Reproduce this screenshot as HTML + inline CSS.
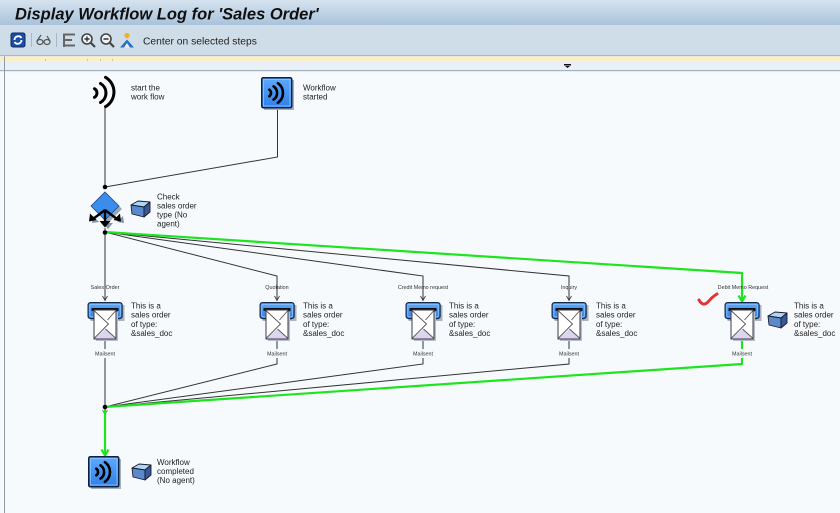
<!DOCTYPE html>
<html><head><meta charset="utf-8"><style>
html,body{margin:0;padding:0;width:840px;height:513px;overflow:hidden;background:#f7fafd}
svg{display:block}
text{font-family:"Liberation Sans",Arial,sans-serif}
</style></head><body>
<svg width="840" height="513" viewBox="0 0 840 513" xmlns="http://www.w3.org/2000/svg">
<defs>
<linearGradient id="tb" x1="0" y1="0" x2="0" y2="1"><stop offset="0" stop-color="#d6e3ef"/><stop offset="1" stop-color="#a9c3db"/></linearGradient>
<linearGradient id="bl" x1="0" y1="0" x2="0" y2="1"><stop offset="0" stop-color="#5eaaff"/><stop offset="1" stop-color="#2f80e8"/></linearGradient>
<g id="wsq">
  <rect x="3" y="3" width="30" height="30" fill="#a6b0bc"/>
  <rect x="0.75" y="0.75" width="30" height="30" rx="1.5" fill="url(#bl)" stroke="#0d2145" stroke-width="1.5"/>
  <rect x="2.5" y="2.5" width="26.5" height="26.5" fill="none" stroke="#8cc8ff" stroke-width="0.8"/>
  <g fill="none" stroke="#000" stroke-width="2.6" stroke-linecap="round">
    <path d="M8.3 12.7 A4 4 0 0 1 8.3 19.3"/>
    <path d="M12.6 9.4 A8 8 0 0 1 12.6 22.6"/>
    <path d="M16.9 6.2 A12 12 0 0 1 16.9 25.8"/>
  </g>
</g>
<g id="box">
  <polygon points="0,5 7,1 19,2 13,7" fill="#a9d9f8" stroke="#1a1a2a" stroke-width="0.9" stroke-linejoin="round"/>
  <polygon points="0,5 13,7 13,17 1,14" fill="#5c88cc" stroke="#1a1a2a" stroke-width="0.9" stroke-linejoin="round"/>
  <polygon points="13,7 19,2 19,12 13,17" fill="#36589a" stroke="#1a1a2a" stroke-width="0.9" stroke-linejoin="round"/>
</g>
<g id="task">
  <rect x="3" y="3" width="34" height="16" fill="#aab4c0"/>
  <rect x="0.6" y="0.6" width="34" height="16" rx="2.5" fill="url(#bl)" stroke="#13294f" stroke-width="1.2"/>
  <rect x="2.3" y="2.3" width="30.6" height="12.6" rx="1.5" fill="none" stroke="#8cc4ff" stroke-width="0.8"/>
  <rect x="4" y="6" width="27" height="3" fill="#111"/>
  <rect x="8.5" y="10" width="22" height="29" fill="#b6bec8"/>
  <rect x="6.5" y="8" width="22" height="29" fill="#fff" stroke="#3a3a4a" stroke-width="1"/>
  <polygon points="7,36.5 18,27 28,36.5" fill="#dcd4f0"/>
  <polyline points="7,9 21,22 7,36" fill="none" stroke="#555" stroke-width="0.9"/>
  <polyline points="28,9 20,18" fill="none" stroke="#555" stroke-width="0.9"/>
  <polyline points="28,36 18,27" fill="none" stroke="#555" stroke-width="0.9"/>
</g>
</defs>

<!-- title bar -->
<rect x="0" y="0" width="840" height="25" fill="url(#tb)"/>
<text x="15" y="19.5" font-size="16.5" font-weight="bold" font-style="italic" fill="#101010">Display Workflow Log for 'Sales Order'</text>
<!-- toolbar -->
<rect x="0" y="25" width="840" height="30" fill="#cfdde8"/>
<rect x="0" y="55" width="840" height="1.2" fill="#a9b7c4"/>
<rect x="0" y="56.5" width="840" height="5" fill="#fcefc6"/>
<rect x="0" y="61.5" width="840" height="9" fill="#e9f0f7"/>
<rect x="0" y="70" width="840" height="1.2" fill="#a3b0bd"/>
<rect x="4" y="56.5" width="1" height="457" fill="#8e9aa6"/>
<g fill="#999"><rect x="45" y="59.5" width="1" height="1"/><rect x="87" y="59.5" width="1" height="1"/><rect x="100" y="59.5" width="1" height="1"/><rect x="112" y="59.5" width="1" height="1"/></g>
<rect x="564" y="64" width="7" height="1.5" fill="#111"/><polygon points="565,66 570,66 567.5,68" fill="#111"/>

<!-- toolbar icons -->
<rect x="11" y="33" width="14" height="14" rx="2" fill="#1a4fa8" stroke="#0d2a60"/>
<path d="M14.5 40 A3.8 3.8 0 0 1 21.5 38" fill="none" stroke="#fff" stroke-width="1.8"/>
<path d="M21.5 40 A3.8 3.8 0 0 1 14.5 42" fill="none" stroke="#fff" stroke-width="1.8"/>
<rect x="31" y="33" width="1" height="14" fill="#a9b7c4"/>
<g fill="none" stroke="#555" stroke-width="1.2"><ellipse cx="40" cy="42" rx="3" ry="2.5"/><ellipse cx="47" cy="42" rx="3" ry="2.5"/><path d="M37 41 L41 35 M43 42 L44 42 M50 41 L47 36"/></g>
<rect x="56" y="33" width="1" height="14" fill="#a9b7c4"/>
<g stroke="#666" stroke-width="2"><path d="M64 33.5 V47"/><path d="M64 34.5 H75 M64 40 H72 M64 45.5 H75"/></g>
<g fill="#eef3f8" stroke="#444" stroke-width="1.6"><circle cx="87" cy="39" r="5"/><circle cx="106" cy="39" r="5"/></g>
<g stroke="#444" stroke-width="2.2"><path d="M90.5 42.5 L95 47 M109.5 42.5 L114 47"/></g>
<g stroke="#333" stroke-width="1.4"><path d="M84.5 39 H89.5 M87 36.5 V41.5 M103.5 39 H108.5"/></g>
<circle cx="127" cy="35.5" r="2.6" fill="#f0b020"/>
<polygon points="120,47.5 134,47.5 127,39.5" fill="#2a70c0"/>
<polygon points="124,47.5 130,47.5 127,43" fill="#e8eef4"/>
<text x="143" y="44.5" font-size="10.3" fill="#222">Center on selected steps</text>

<!-- canvas connectors -->
<g fill="none" stroke="#333" stroke-width="1">
  <path d="M105 108 V187"/>
  <path d="M277.5 107 V157 L105 187"/>
  <path d="M105 228 V232"/>
  <path d="M105 232 V301"/>
  <path d="M105 232 L277 276 V301"/>
  <path d="M105 232 L423 276 V301"/>
  <path d="M105 232 L569 276 V301"/>
  <path d="M105 339 V349 M105 358 V407"/>
  <path d="M277 339 V349 M277 358 V364 L105 407"/>
  <path d="M423 339 V349 M423 358 V364 L105 407"/>
  <path d="M569 339 V349 M569 358 V364 L105 407"/>
</g>
<g fill="none" stroke="#444" stroke-width="0.9">
  <polyline points="102.5,296 105,300.5 107.5,296"/>
  <polyline points="274.5,296 277,300.5 279.5,296"/>
  <polyline points="420.5,296 423,300.5 425.5,296"/>
  <polyline points="566.5,296 569,300.5 571.5,296"/>
  <polyline points="102.5,410 105,414.5 107.5,410" stroke="#777"/>
</g>
<g fill="none" stroke="#1ee41e" stroke-width="2.2" stroke-linejoin="round">
  <path d="M105 232 L742 273 V301"/>
  <path d="M742 339 V349 M742 358 V364 L105 407"/>
  <path d="M105 407 V455"/>
  <polyline points="738.5,295.5 742,301.5 745.5,295.5"/>
  <polyline points="101.5,449.5 105,455.5 108.5,449.5"/>
</g>
<g fill="#000"><circle cx="105" cy="187" r="2.3"/><circle cx="105" cy="232.5" r="2.3"/><circle cx="105" cy="407" r="2.3"/></g>

<!-- start node -->
<g fill="none" stroke="#000" stroke-width="3" stroke-linecap="round">
  <path d="M94.5 88.7 A5 5 0 0 1 94.5 97.3"/>
  <path d="M100.5 83.5 A11 11 0 0 1 100.5 102.5"/>
  <path d="M105.5 77.3 A17 17 0 0 1 105.5 106.7"/>
</g>
<g font-size="8" fill="#222">
  <text x="131" y="90.5">start the</text><text x="131" y="99.5">work flow</text>
</g>
<use href="#wsq" x="261" y="77"/>
<g font-size="8" fill="#222">
  <text x="303" y="90.5">Workflow</text><text x="303" y="99.5">started</text>
</g>

<!-- check node -->
<g>
  <polygon points="108,195 122,209 108,223 94,209" fill="#9aa8b6"/>
  <polygon points="105,192 119,206 105,220 91,206" fill="#3b8ceb" stroke="#1e4a8a" stroke-width="0.8"/>
  <g fill="#8796a6" transform="translate(3,2)">
    <polygon points="89,221 90,214 96,220"/><polygon points="121,221 120,214 114,220"/><polygon points="100,221 110,221 105,227"/>
  </g>
  <g stroke="#000" stroke-width="2.4"><path d="M105 210 L93 219 M105 210 L117 219 M105 210 V222"/></g>
  <g fill="#000"><polygon points="89,221.5 90,213.5 96.5,220"/><polygon points="121,221.5 120,213.5 113.5,220"/><polygon points="99.5,221 110.5,221 105,227.5"/></g>
</g>
<use href="#box" x="131" y="200"/>
<g font-size="8" fill="#222">
  <text x="157" y="199.5">Check</text><text x="157" y="208.5">sales order</text><text x="157" y="217.5">type (No</text><text x="157" y="226.5">agent)</text>
</g>

<!-- tasks -->
<use href="#task" x="87.5" y="302"/>
<use href="#task" x="259.5" y="302"/>
<use href="#task" x="405.5" y="302"/>
<use href="#task" x="551.5" y="302"/>
<use href="#task" x="724.5" y="302"/>
<use href="#box" x="768" y="311"/>
<g font-size="5.4" fill="#333" text-anchor="middle">
  <text x="105" y="289">Sales Order</text>
  <text x="277" y="289">Quotation</text>
  <text x="423" y="289">Credit Memo request</text>
  <text x="569" y="289">Inquiry</text>
  <text x="743" y="289">Debit Memo Request</text>
  <text x="105" y="355.5">Mailsent</text>
  <text x="277" y="355.5">Mailsent</text>
  <text x="423" y="355.5">Mailsent</text>
  <text x="569" y="355.5">Mailsent</text>
  <text x="742" y="355.5">Mailsent</text>
</g>
<g font-size="8" fill="#222">
  <text x="131" y="308.5">This is a</text><text x="131" y="317.7">sales order</text><text x="131" y="326.9">of type:</text><text x="131" y="336">&amp;sales_doc</text>
  <text x="303" y="308.5">This is a</text><text x="303" y="317.7">sales order</text><text x="303" y="326.9">of type:</text><text x="303" y="336">&amp;sales_doc</text>
  <text x="449" y="308.5">This is a</text><text x="449" y="317.7">sales order</text><text x="449" y="326.9">of type:</text><text x="449" y="336">&amp;sales_doc</text>
  <text x="596" y="308.5">This is a</text><text x="596" y="317.7">sales order</text><text x="596" y="326.9">of type:</text><text x="596" y="336">&amp;sales_doc</text>
  <text x="794" y="308.5">This is a</text><text x="794" y="317.7">sales order</text><text x="794" y="326.9">of type:</text><text x="794" y="336">&amp;sales_doc</text>
</g>
<path d="M699 300 Q703 307 708 302 Q712 297 717 294" fill="none" stroke="#e03535" stroke-width="3" stroke-linecap="round"/>

<!-- end node -->
<use href="#wsq" x="88" y="456"/>
<use href="#box" x="132" y="463"/>
<g font-size="8" fill="#222">
  <text x="157" y="465">Workflow</text><text x="157" y="474">completed</text><text x="157" y="483">(No agent)</text>
</g>
</svg>
</body></html>
